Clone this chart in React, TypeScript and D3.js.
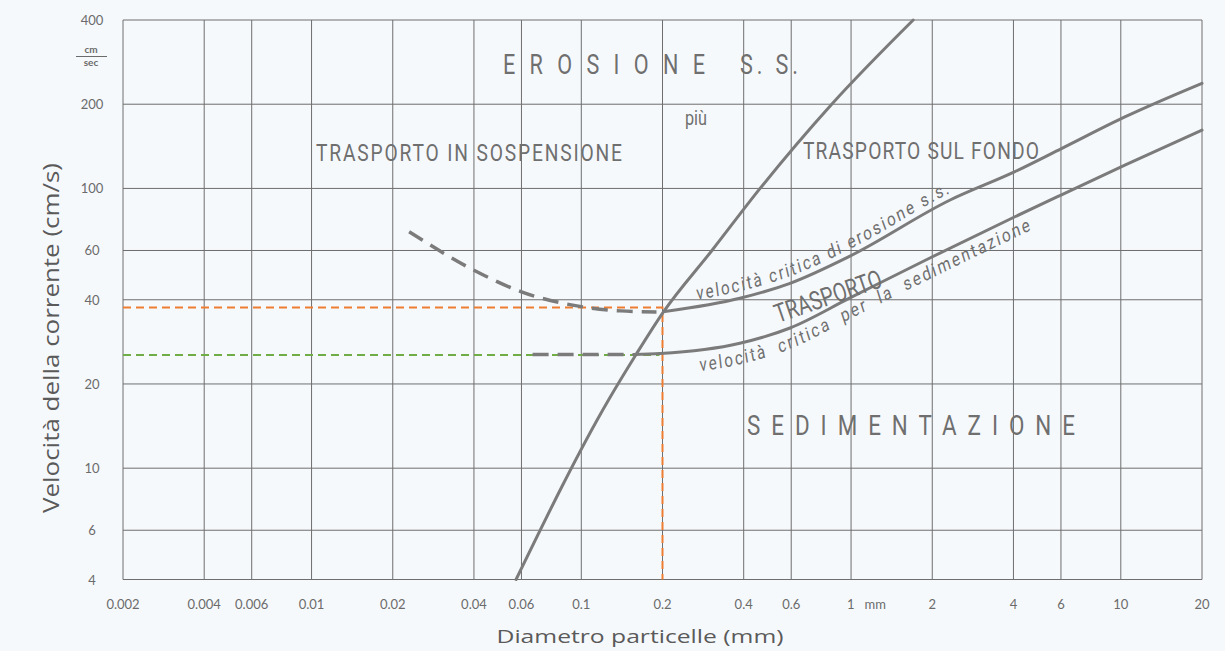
import React, { useEffect, useRef } from 'react';
import * as d3 from 'd3';

const W = 1225;
const H = 651;

// Axis ticks
const xTicks = [0.002, 0.004, 0.006, 0.01, 0.02, 0.04, 0.06, 0.1, 0.2, 0.4, 0.6, 1, 2, 4, 6, 10, 20];
const xTickLabels = ['0.002', '0.004', '0.006', '0.01', '0.02', '0.04', '0.06', '0.1', '0.2', '0.4', '0.6', '1', '2', '4', '6', '10', '20'];
const yTicks = [4, 6, 10, 20, 40, 60, 100, 200, 400];
const yTickLabels = ['4', '6', '10', '20', '40', '60', '100', '200', '400'];

// Steep boundary line (diameter mm, velocity cm/s)
const steepD = [0.0573, 0.126, 0.1596, 0.2008, 0.305, 0.46, 0.848, 1.7];
const steepV = [4, 17.5, 25.5, 36, 60, 100, 200, 400];

// Critical erosion velocity: dashed part and solid part
const erosionDashD = [0.023, 0.04, 0.06, 0.1, 0.14, 0.19];
const erosionDashV = [70, 51, 42.7, 37.8, 36.5, 36.2];
const erosionD = [0.204, 0.387, 0.594, 0.991, 2.33, 4.05, 6.05, 10.4, 20];
const erosionV = [36.3, 40.5, 45.8, 57.3, 90.9, 114.8, 139.1, 180.5, 237.5];

// Critical sedimentation velocity: dashed part and solid part
const sedDashD = [0.066, 0.1, 0.148];
const sedDashV = [25.5, 25.5, 25.5];
const sedD = [0.156, 0.196, 0.387, 0.594, 0.991, 1.96, 4.05, 6.0, 10.4, 20];
const sedV = [25.5, 25.7, 27.95, 31.7, 40.6, 56.4, 79.2, 94.7, 121.3, 161.7];

// Reference guide lines
const refD = 0.2;
const refErosionV = 37.5;
const refSedV = 25.4;

const zip = (a: number[], b: number[]) => a.map((v, i) => [v, b[i]] as [number, number]);

export default function App() {
  const ref = useRef<SVGSVGElement>(null);

  useEffect(() => {
    const svg = d3.select(ref.current);
    svg.selectAll('*').remove();

    const x = d3.scaleLog().domain([0.002, 20]).range([123, 1202]);
    const y = d3.scaleLog().domain([4, 400]).range([579.5, 20]);

    svg.append('rect').attr('width', W).attr('height', H).attr('fill', '#f6f9fc');

    // grid
    const grid = svg.append('g').attr('stroke', '#6e6e6e').attr('stroke-width', 1).attr('fill', 'none');
    xTicks.forEach((t) => {
      grid.append('line').attr('x1', x(t)).attr('x2', x(t)).attr('y1', y(4)).attr('y2', y(400));
    });
    yTicks.forEach((t) => {
      grid.append('line').attr('x1', x(0.002)).attr('x2', x(20)).attr('y1', y(t)).attr('y2', y(t));
    });

    // tick labels
    const tickFont = 'Lato, "DejaVu Sans", sans-serif';
    xTicks.forEach((t, i) => {
      if (t === 1) {
        svg.append('text').attr('x', x(t) - 4).attr('y', 609).attr('font-family', tickFont).attr('font-size', 13)
          .attr('fill', '#6b6b6b').style('white-space', 'pre').text('1   mm');
      } else {
        svg.append('text').attr('x', x(t)).attr('y', 609).attr('text-anchor', 'middle').attr('font-family', tickFont)
          .attr('font-size', 13).attr('fill', '#6b6b6b').text(xTickLabels[i]);
      }
    });
    yTicks.forEach((t, i) => {
      svg.append('text').attr('x', 92).attr('y', y(t) + 5).attr('text-anchor', 'middle').attr('font-family', tickFont)
        .attr('font-size', 13).attr('fill', '#6b6b6b').text(yTickLabels[i]);
    });
    // cm/sec unit
    svg.append('text').attr('x', 91).attr('y', 53).attr('text-anchor', 'middle').attr('font-family', tickFont)
      .attr('font-size', 10).attr('font-weight', 'bold').attr('fill', '#6b6b6b').text('cm');
    svg.append('line').attr('x1', 76).attr('x2', 107).attr('y1', 56.5).attr('y2', 56.5).attr('stroke', '#6b6b6b').attr('stroke-width', 1);
    svg.append('text').attr('x', 91).attr('y', 66).attr('text-anchor', 'middle').attr('font-family', tickFont)
      .attr('font-size', 10).attr('font-weight', 'bold').attr('fill', '#6b6b6b').text('sec');

    // axis titles
    svg.append('text').attr('x', 640).attr('y', 643).attr('text-anchor', 'middle').attr('font-family', '"Open Sans", sans-serif')
      .attr('font-size', 19).attr('fill', '#5a5a5a').attr('textLength', 287).attr('lengthAdjust', 'spacingAndGlyphs')
      .text('Diametro particelle (mm)');
    svg.append('text').attr('transform', 'translate(59,338) rotate(-90)').attr('text-anchor', 'middle')
      .attr('font-family', '"Open Sans", sans-serif').attr('font-size', 22).attr('fill', '#5a5a5a')
      .attr('textLength', 350).attr('lengthAdjust', 'spacingAndGlyphs').text('Velocità della corrente (cm/s)');

    // reference dashed lines
    svg.append('path')
      .attr('d', `M${x(0.002)},${y(refErosionV)}H${x(refD)}V${y(4)}`)
      .attr('fill', 'none').attr('stroke', '#ed7d31').attr('stroke-width', 2).attr('stroke-dasharray', '8 5');
    svg.append('path')
      .attr('d', `M${x(0.002)},${y(refSedV)}H${x(refD) - 3}`)
      .attr('fill', 'none').attr('stroke', '#70ad47').attr('stroke-width', 2).attr('stroke-dasharray', '8 5');

    // curves
    const line = d3.line<[number, number]>().x((d) => x(d[0])).y((d) => y(d[1])).curve(d3.curveMonotoneX);
    const curveColor = '#7b7b7b';
    const solid = (pts: [number, number][]) =>
      svg.append('path').attr('d', line(pts)).attr('fill', 'none').attr('stroke', curveColor).attr('stroke-width', 3)
        .attr('stroke-linecap', 'round');
    const dashed = (pts: [number, number][]) =>
      svg.append('path').attr('d', line(pts)).attr('fill', 'none').attr('stroke', curveColor).attr('stroke-width', 3.5)
        .attr('stroke-dasharray', '16 9');

    dashed(zip(erosionDashD, erosionDashV));
    dashed(zip(sedDashD, sedDashV));
    solid(zip(erosionD, erosionV));
    solid(zip(sedD, sedV));
    solid(zip(steepD, steepV));

    // condensed text helper
    const sx = 0.8;
    const textFill = '#6f6f6f';
    const cText = (str: string, px: number, py: number, size: number, len: number, rot = 0, adjust = 'spacing') => {
      svg.append('text')
        .attr('transform', `translate(${px},${py}) rotate(${rot}) scale(${sx},1)`)
        .attr('font-family', 'Roboto, sans-serif').attr('font-size', size).attr('fill', textFill)
        .attr('textLength', len / sx).attr('lengthAdjust', adjust).text(str);
    };
    cText('EROSIONE', 503, 74, 27, 202);
    cText('S. S.', 740, 74, 27, 58);
    cText('più', 685, 125, 20, 22, 0, 'spacingAndGlyphs');
    cText('TRASPORTO IN SOSPENSIONE', 316, 161, 24, 306);
    cText('TRASPORTO SUL FONDO', 803, 159, 24, 236);
    cText('SEDIMENTAZIONE', 747, 435, 28, 328);
    cText('TRASPORTO', 778, 323, 26, 112, -19, 'spacingAndGlyphs');

    // text along the curves
    const pathText = (id: string, pts: [number, number][], off: number, str: string, x0: number, x1: number, size: number) => {
      const g = svg.append('g').attr('transform', `scale(${sx},1)`);
      const l = d3.line<[number, number]>().x((d) => x(d[0]) / sx).y((d) => y(d[1]) + off).curve(d3.curveMonotoneX);
      const p = g.append('path').attr('id', id).attr('d', l(pts)).attr('fill', 'none').attr('stroke', 'none');
      const node = p.node() as SVGPathElement;
      const total = node.getTotalLength();
      const lenAt = (px: number) => {
        let lo = 0, hi = total;
        for (let k = 0; k < 40; k++) {
          const mid = (lo + hi) / 2;
          if (node.getPointAtLength(mid).x < px / sx) lo = mid; else hi = mid;
        }
        return lo;
      };
      const s = lenAt(x0);
      const e = lenAt(x1);
      g.append('text').attr('font-family', 'Roboto, sans-serif').attr('font-size', size).attr('fill', textFill)
        .style('white-space', 'pre')
        .append('textPath').attr('href', `#${id}`).attr('startOffset', s)
        .attr('textLength', e - s).attr('lengthAdjust', 'spacing').text(str);
    };
    pathText('pErosion', zip(erosionD, erosionV), -7, 'velocità critica di erosione s.s.', 697, 950, 19);
    pathText('pSed', zip(sedD, sedV), 21, 'velocità  critica  per  la  sedimentazione', 700, 1031, 19);
  }, []);

  return <svg ref={ref} width={W} height={H} style={{ position: 'absolute', left: 0, top: 0 }} />;
}
